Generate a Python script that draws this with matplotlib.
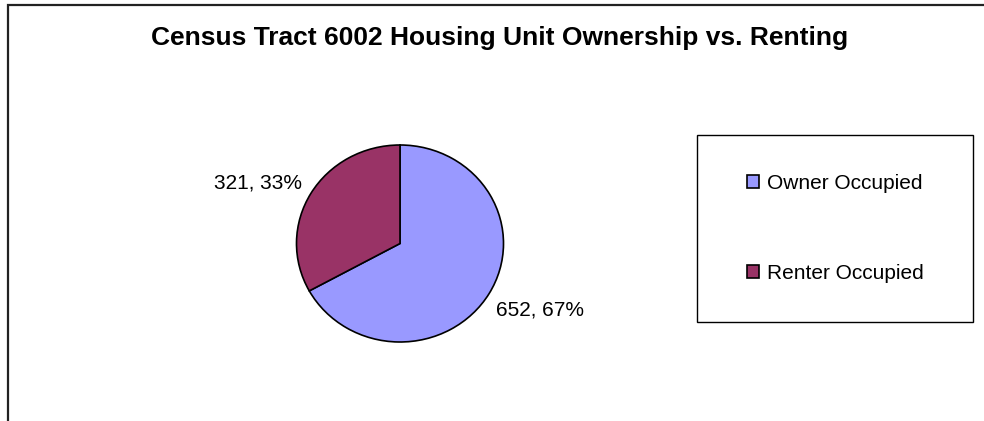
import matplotlib
matplotlib.use("Agg")
import matplotlib.pyplot as plt
from matplotlib.patches import Rectangle

categories = ["Owner Occupied", "Renter Occupied"]
values = [652, 321]
percents = ["67%", "33%"]
colors = ["#9999FF", "#993366"]
title = "Census Tract 6002 Housing Unit Ownership vs. Renting"

plt.rcParams["font.family"] = ["Liberation Sans", "DejaVu Sans"]

W, H = 984, 421
fig = plt.figure(figsize=(W / 100, H / 100), dpi=100)
fig.patch.set_facecolor("white")

# chart border (left and top visible)
fig.patches.append(Rectangle((8 / W, -0.2), 1.5, 0.2 + (H - 4.5) / H,
                             transform=fig.transFigure, fill=False,
                             edgecolor="#222222", linewidth=1.6, zorder=0))

# title
fig.text(500 / W, 1 - 38 / H, title, ha="center", va="center",
         fontsize=19, fontweight="bold", color="black")

# pie axes
cx, cy, rx, ry = 400, 243.5, 103.5, 98.5
ax = fig.add_axes([(cx - rx) / W, 1 - (cy + ry) / H, 2 * rx / W, 2 * ry / H])
wedges, texts = ax.pie(values, colors=colors, startangle=90, counterclock=False,
                       labels=[f"{v}, {p}" for v, p in zip(values, percents)],
                       wedgeprops=dict(edgecolor="black", linewidth=1.2),
                       textprops=dict(fontsize=15), labeldistance=1.1)
ax.set_aspect("auto")
ax.set_xlim(-1, 1)
ax.set_ylim(-1, 1)
ax.axis("off")

# label positions (data units relative to the pie)
texts[0].set_position((0.928, -0.675))
texts[0].set_ha("left")
texts[0].set_va("center")
texts[1].set_position((-0.947, 0.614))
texts[1].set_ha("right")
texts[1].set_va("center")

# legend frame
x0, y0, x1, y1 = 697, 135, 973, 322
fig.patches.append(Rectangle((x0 / W, 1 - y1 / H), (x1 - x0) / W, (y1 - y0) / H,
                             transform=fig.transFigure, fill=False,
                             edgecolor="black", linewidth=1.0))

leg = fig.legend(wedges, categories, loc="center",
                 bbox_to_anchor=((x0 + x1) / 2 / W, 1 - (y0 + y1) / 2 / H),
                 frameon=False, fontsize=15, handlelength=0.6, handleheight=0.6,
                 handletextpad=0.35, labelspacing=3.4)

fig.savefig("out.png", dpi=100, facecolor="white")
